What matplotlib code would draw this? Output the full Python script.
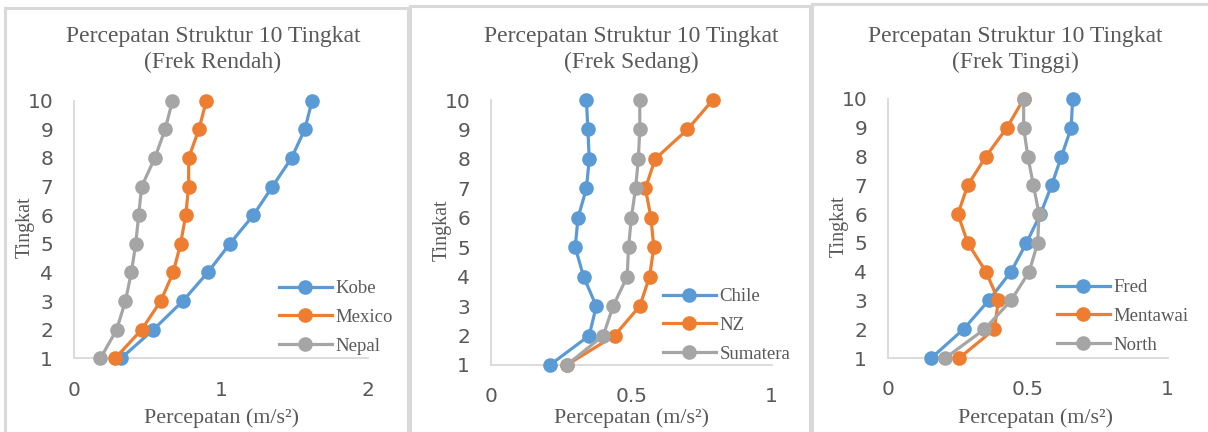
import numpy as np
import matplotlib
matplotlib.use("Agg")
import matplotlib.pyplot as plt
from matplotlib.patches import Rectangle

W, H = 1208, 432

tingkat = [1, 2, 3, 4, 5, 6, 7, 8, 9, 10]

# Frek Rendah
kobe = [0.32, 0.54, 0.74, 0.91, 1.06, 1.22, 1.35, 1.48, 1.57, 1.62]
mexico = [0.28, 0.46, 0.59, 0.675, 0.725, 0.76, 0.78, 0.78, 0.85, 0.90]
nepal = [0.18, 0.29, 0.35, 0.39, 0.42, 0.44, 0.46, 0.55, 0.62, 0.67]

# Frek Sedang
chile = [0.21, 0.35, 0.375, 0.33, 0.30, 0.31, 0.34, 0.35, 0.345, 0.34]
nz = [0.27, 0.44, 0.53, 0.565, 0.58, 0.57, 0.55, 0.585, 0.70, 0.79]
sumatera = [0.27, 0.40, 0.435, 0.485, 0.49, 0.50, 0.515, 0.525, 0.53, 0.53]

# Frek Tinggi
fred = [0.155, 0.27, 0.36, 0.44, 0.495, 0.545, 0.585, 0.62, 0.655, 0.66]
mentawai = [0.255, 0.38, 0.395, 0.35, 0.285, 0.25, 0.285, 0.35, 0.425, 0.485]
north = [0.205, 0.345, 0.44, 0.505, 0.535, 0.54, 0.52, 0.50, 0.485, 0.485]

colors = ["#5B9BD5", "#ED7D31", "#A5A5A5"]
txt = "#595959"
serif = ["Liberation Serif", "DejaVu Serif"]
sans = ["DejaVu Sans"]

# pixel layout per panel: border box, plot area, legend (x, first row y), title/xlabel centre x
panels = [
    dict(title="Percepatan Struktur 10 Tingkat\n(Frek Rendah)",
         series=[("Kobe", kobe), ("Mexico", mexico), ("Nepal", nepal)],
         xmax=2, xticks=[0, 1, 2], xticklabels=["0", "1", "2"],
         box=(5, 8, 408, 440), plot=(74, 100.7, 368, 358.3),
         leg=(279, 287), tx=213, lx=221),
    dict(title="Percepatan Struktur 10 Tingkat\n(Frek Sedang)",
         series=[("Chile", chile), ("NZ", nz), ("Sumatera", sumatera)],
         xmax=1, xticks=[0, 0.5, 1], xticklabels=["0", "0.5", "1"],
         box=(410, 6, 810, 440), plot=(491, 100, 771.7, 365),
         leg=(663, 295), tx=631, lx=631),
    dict(title="Percepatan Struktur 10 Tingkat\n(Frek Tinggi)",
         series=[("Fred", fred), ("Mentawai", mentawai), ("North", north)],
         xmax=1, xticks=[0, 0.5, 1], xticklabels=["0", "0.5", "1"],
         box=(812, 4, 1215, 440), plot=(888, 99, 1167.7, 358),
         leg=(1057, 286), tx=1015, lx=1035),
]

fig = plt.figure(figsize=(W / 100, H / 100), dpi=100)
fig.patch.set_facecolor("white")

for p in panels:
    bx0, by0, bx1, by1 = p["box"]
    fig.patches.append(Rectangle((bx0 / W, 1 - by1 / H), (bx1 - bx0) / W, (by1 - by0) / H,
                                 transform=fig.transFigure, fill=False,
                                 edgecolor="#D9D9D9", linewidth=2.2, zorder=0))
    x0, y0, x1, y1 = p["plot"]
    ax = fig.add_axes([x0 / W, 1 - y1 / H, (x1 - x0) / W, (y1 - y0) / H])
    ax.set_facecolor("none")
    for (name, vals), c in zip(p["series"], colors):
        ax.plot(vals, tingkat, color=c, lw=2.3, marker="o", markersize=9.5,
                label=name, clip_on=False, zorder=3)
    ax.set_xlim(0, p["xmax"])
    ax.set_ylim(1, 10)
    ax.set_xticks(p["xticks"])
    ax.set_xticklabels(p["xticklabels"])
    ax.set_yticks(tingkat)
    for s in ["top", "right"]:
        ax.spines[s].set_visible(False)
    for s in ["left", "bottom"]:
        ax.spines[s].set_color("#D9D9D9")
        ax.spines[s].set_linewidth(1.3)
    ax.tick_params(length=0, labelsize=14.5, labelcolor=txt)
    ax.tick_params(axis="x", pad=16)
    ax.tick_params(axis="y", pad=15)
    for lab in ax.get_xticklabels() + ax.get_yticklabels():
        lab.set_family(sans)
    fig.text(p["tx"] / W, 1 - 26 / H, p["title"], ha="center", va="top",
             fontsize=17, color=txt, family=serif, linespacing=1.32)
    fig.text(p["lx"] / W, 1 - 418 / H, "Percepatan (m/s²)", ha="center",
             va="center", fontsize=15.8, color=txt, family=serif)
    fig.text((x0 - 49) / W, 1 - ((y0 + y1) / 2 - 2) / H, "Tingkat", rotation=90,
             ha="center", va="center", fontsize=14.5, color=txt, family=serif)
    lx, ly = p["leg"]
    leg = ax.legend(loc="upper left", bbox_to_anchor=(lx / W, 1 - (ly - 7) / H),
                    bbox_transform=fig.transFigure, frameon=False, handlelength=2.8,
                    handletextpad=0.2, labelspacing=0.62, borderpad=0, borderaxespad=0,
                    prop={"family": serif, "size": 13.5})
    for t in leg.get_texts():
        t.set_color(txt)

fig.savefig("out.png", dpi=100)
